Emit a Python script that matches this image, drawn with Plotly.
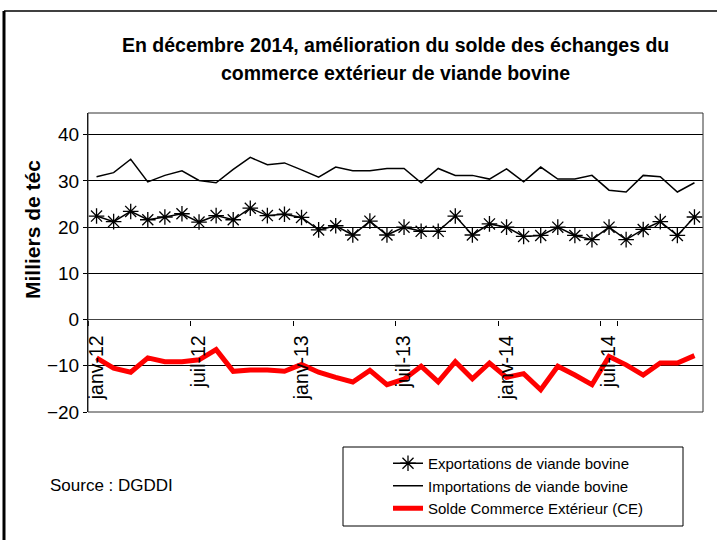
import plotly.graph_objects as go

months = ["janv", "févr", "mars", "avr", "mai", "juin", "juil", "août", "sept", "oct", "nov", "déc"]
years = ["12", "13", "14"]
categories = [f"{m}-{y}" for y in years for m in months]
tick_labels = ["janv-12", "juil-12", "janv-13", "juil-13", "janv-14", "juil-14"]

exports = [22.4, 21.2, 23.4, 21.6, 22.2, 22.9, 21.1, 22.5, 21.6, 24.1, 22.5, 22.8,
           22.1, 19.4, 20.3, 18.3, 21.3, 18.3, 20.0, 19.1, 19.1, 22.4, 18.3, 20.7,
           20.0, 18.0, 18.2, 20.0, 18.2, 17.3, 20.0, 17.3, 19.5, 21.2, 18.2, 22.2]
imports = [30.9, 31.8, 34.7, 29.8, 31.2, 32.2, 30.1, 29.6, 32.5, 35.1, 33.5, 33.9,
           32.4, 30.8, 33.0, 32.2, 32.2, 32.7, 32.7, 29.6, 32.7, 31.2, 31.2, 30.4,
           32.6, 29.8, 33.0, 30.4, 30.4, 31.2, 28.0, 27.6, 31.2, 30.9, 27.6, 29.6]
solde = [-8.3, -10.5, -11.4, -8.3, -9.1, -9.1, -8.7, -6.5, -11.2, -10.9, -10.9, -11.2,
         -9.7, -11.4, -12.5, -13.5, -11.0, -14.1, -12.9, -10.1, -13.5, -9.1, -12.8, -9.4,
         -12.5, -11.7, -15.2, -10.1, -12.0, -14.1, -8.0, -9.8, -12.0, -9.4, -9.4, -7.8]
y_ticks = [-20, -10, 0, 10, 20, 30, 40]

FONT = "Liberation Sans, Arial, sans-serif"

fig = go.Figure()
fig.add_trace(go.Scatter(
    x=categories, y=exports, mode="lines+markers",
    name="Exportations de viande bovine", legendgroup="a",
    line=dict(color="black", width=1.5),
    marker=dict(symbol="asterisk-open", size=13, line=dict(color="black", width=1.3)),
))
fig.add_trace(go.Scatter(
    x=categories, y=imports, mode="lines",
    name="Importations de viande bovine", legendgroup="b",
    line=dict(color="black", width=1.5),
))
fig.add_trace(go.Scatter(
    x=categories, y=solde, mode="lines",
    name="Solde Commerce Extérieur (CE)", legendgroup="c",
    line=dict(color="#ff0000", width=5),
))

W, H = 717, 540
L, R, T, B = 88, 14, 113, 128
pw, ph = W - L - R, H - T - B
ymin, ymax = -20, 44.7


def px(x):
    return (x - L) / pw


def py(y):
    return (H - B - y) / ph


fig.update_layout(
    width=W, height=H,
    margin=dict(l=L, r=R, t=T, b=B, autoexpand=False),
    paper_bgcolor="white", plot_bgcolor="white",
    font=dict(family=FONT, color="black"),
    showlegend=True,
    legend=dict(
        x=px(388), y=py(447), xanchor="left", yanchor="top",
        font=dict(size=15, family=FONT, color="black"),
        bgcolor="rgba(0,0,0,0)", borderwidth=0,
        tracegroupgap=5, traceorder="normal",
    ),
    xaxis=dict(
        type="category", categoryorder="array", categoryarray=categories,
        range=[-0.5, 35.5],
        tickmode="array", tickvals=tick_labels,
        ticktext=[t + "\u00a0\u00a0" for t in tick_labels],
        tickson="boundaries", ticks="outside", ticklen=5, tickcolor="black",
        tickangle=-90, tickfont=dict(size=19.5, family=FONT),
        showgrid=False, showline=False, zeroline=False, automargin=False,
        anchor="free", position=(0 - ymin) / (ymax - ymin),
    ),
    yaxis=dict(
        range=[ymin, ymax], tickvals=y_ticks,
        ticks="outside", ticklen=4, tickcolor="black",
        tickfont=dict(size=19, family=FONT), automargin=False,
        showgrid=True, gridcolor="black", gridwidth=1,
        zeroline=True, zerolinecolor="#444", zerolinewidth=1,
        showline=True, linecolor="black", linewidth=1,
    ),
    shapes=[
        dict(type="rect", xref="paper", yref="paper", x0=0, x1=1, y0=0, y1=1,
             line=dict(color="#333", width=1)),
        dict(type="rect", xref="paper", yref="paper",
             x0=px(343), x1=px(683), y0=py(526), y1=py(447),
             line=dict(color="black", width=1)),
        dict(type="line", xref="paper", yref="paper",
             x0=px(4), x1=px(4), y0=py(11), y1=py(540),
             line=dict(color="black", width=3)),
        dict(type="line", xref="paper", yref="paper",
             x0=px(4), x1=px(717), y0=py(11), y1=py(11),
             line=dict(color="black", width=1.5)),
    ],
    annotations=[
        dict(text="<b>En décembre 2014, amélioration du solde des échanges du</b>",
             xref="paper", yref="paper", x=0.5, y=py(45), xanchor="center", yanchor="middle",
             showarrow=False, font=dict(size=19.5, family=FONT)),
        dict(text="<b>commerce extérieur de viande bovine</b>",
             xref="paper", yref="paper", x=0.5, y=py(73), xanchor="center", yanchor="middle",
             showarrow=False, font=dict(size=19.5, family=FONT)),
        dict(text="<b>Milliers de téc</b>", textangle=-90,
             xref="paper", yref="paper", x=px(32), y=py(229), xanchor="center", yanchor="middle",
             showarrow=False, font=dict(size=21, family=FONT)),
        dict(text="Source : DGDDI",
             xref="paper", yref="paper", x=px(48), y=py(485), xanchor="left", yanchor="middle",
             showarrow=False, font=dict(size=17, family=FONT)),
    ],
)

fig.write_html("out.html", config={"displayModeBar": False},
               post_script="document.body.style.margin='0';document.body.style.overflow='hidden';")
